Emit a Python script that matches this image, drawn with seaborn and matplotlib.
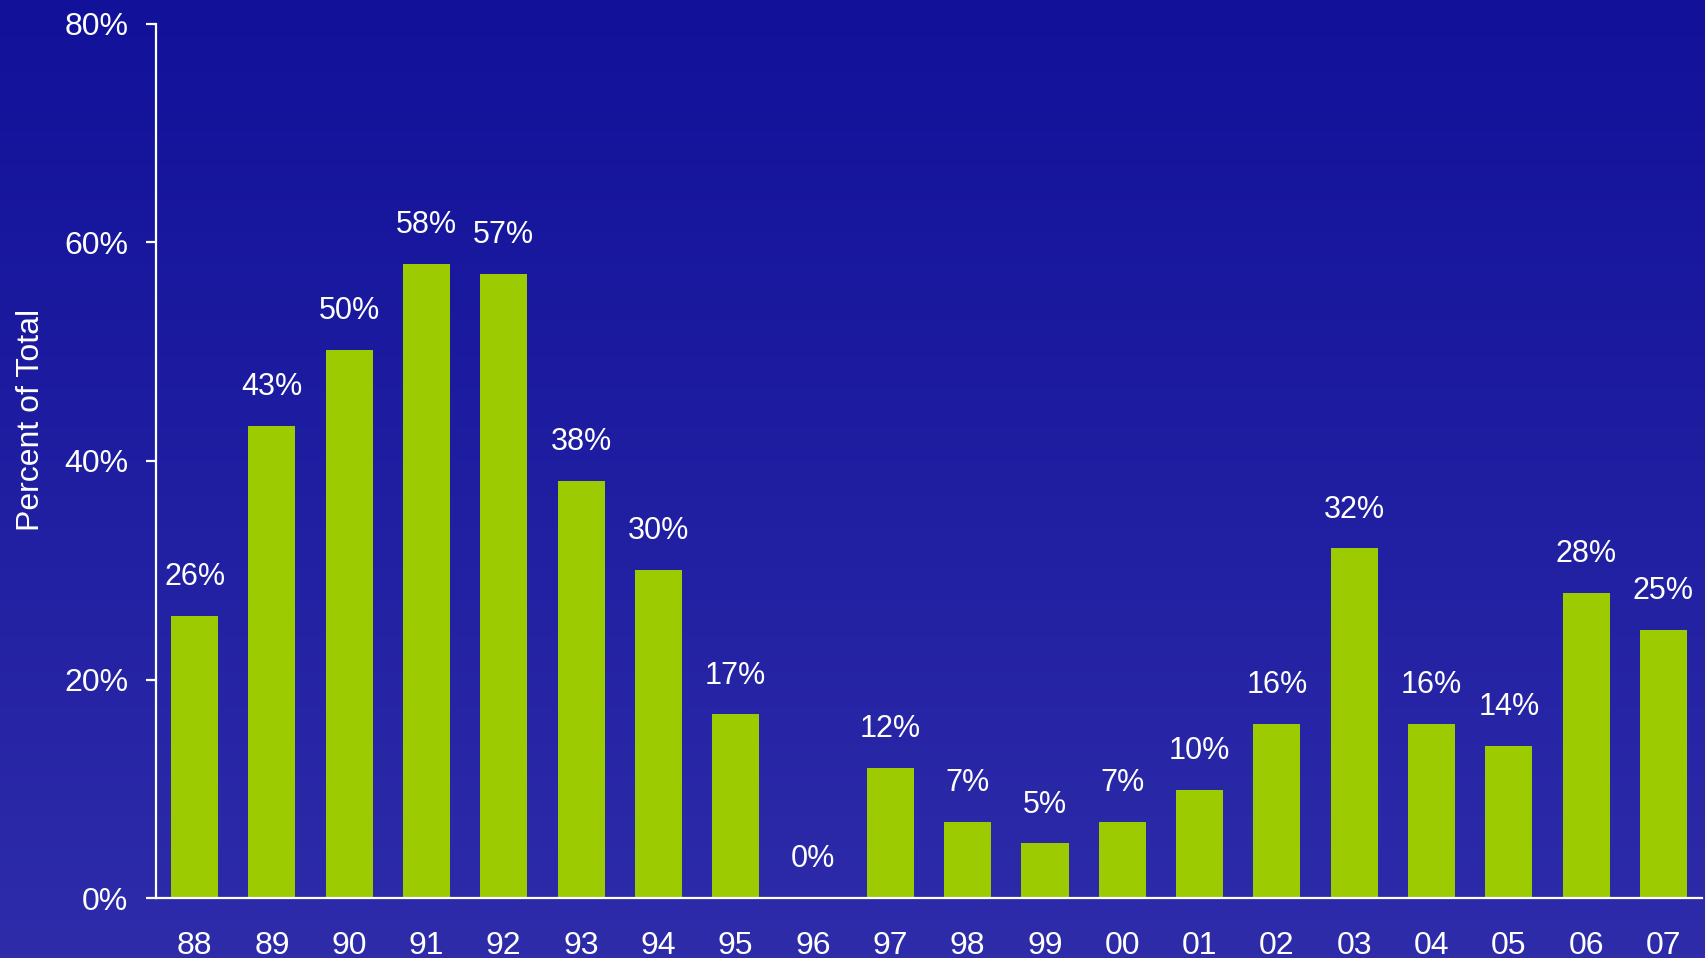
import numpy as np
import pandas as pd
import seaborn as sns
import matplotlib.pyplot as plt
from matplotlib.colors import LinearSegmentedColormap

# Data
years = ["88", "89", "90", "91", "92", "93", "94", "95", "96", "97",
         "98", "99", "00", "01", "02", "03", "04", "05", "06", "07"]
pct = [25.8, 43.2, 50.2, 58.0, 57.1, 38.2, 30.0, 16.8, 0.0, 11.9,
       7.0, 5.0, 7.0, 9.9, 15.9, 32.0, 15.9, 13.9, 27.9, 24.5]
labels = ["26%", "43%", "50%", "58%", "57%", "38%", "30%", "17%", "0%", "12%",
          "7%", "5%", "7%", "10%", "16%", "32%", "16%", "14%", "28%", "25%"]

df = pd.DataFrame({"year": years, "pct": pct})

sns.set_theme(style="white")
plt.rcParams["font.family"] = ["Liberation Sans", "DejaVu Sans"]

fig = plt.figure(figsize=(17.06, 9.58), dpi=100)

# gradient background
bg = fig.add_axes([0, 0, 1, 1], zorder=-1)
cmap = LinearSegmentedColormap.from_list("bg", ["#11119a", "#2e2ca9"])
bg.imshow(np.linspace(0, 1, 256).reshape(-1, 1), aspect="auto", cmap=cmap,
          extent=[0, 1, 0, 1])
bg.set_axis_off()

ax = fig.add_axes([0.0914, 0.0626, 0.9063, 0.9124])
ax.set_facecolor("none")

sns.barplot(data=df, x="year", y="pct", color="#9bcb00", saturation=1,
            width=0.61, linewidth=0, ax=ax)

for i, (v, lab) in enumerate(zip(pct, labels)):
    ax.annotate(lab, (i, v), xytext=(0, 28), textcoords="offset points",
                ha="center", va="center", color="white", fontsize=22)

ax.set_xlim(-0.5, 19.5)
ax.set_ylim(0, 80)
ax.set_yticks([0, 20, 40, 60, 80])
ax.set_yticklabels(["0%", "20%", "40%", "60%", "80%"])
ax.set_xlabel("")
ax.set_ylabel("Percent of Total", color="white", fontsize=23)
ax.yaxis.set_label_coords(-0.071, 0.547)

for s in ["top", "right"]:
    ax.spines[s].set_visible(False)
for s in ["left", "bottom"]:
    ax.spines[s].set_color("white")
    ax.spines[s].set_linewidth(1.6)

ax.tick_params(axis="y", colors="white", labelsize=23, length=7, width=1.6,
               direction="out", pad=13, left=True)
ax.tick_params(axis="x", colors="white", labelsize=23, length=0, pad=24)

fig.savefig("out.png", dpi=100)
